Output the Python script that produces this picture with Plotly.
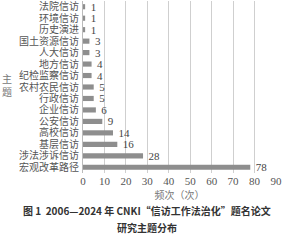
import plotly.graph_objects as go

categories = ["法院信访", "环境信访", "历史演进", "国土资源信访", "人大信访", "地方信访",
              "纪检监察信访", "农村农民信访", "行政信访", "企业信访", "公安信访", "高校信访",
              "基层信访", "涉法涉诉信访", "宏观改革路径"]
values = [1, 1, 1, 3, 3, 4, 4, 5, 5, 6, 9, 14, 16, 28, 78]
x_ticks = [0, 10, 20, 30, 40, 50, 60, 70, 80, 90]

serif = "Liberation Serif, Noto Sans CJK SC, serif"

fig = go.Figure(go.Bar(
    x=values, y=categories, orientation="h",
    marker=dict(color="#8e8e8e", line=dict(width=0)),
    width=0.45,
    text=["\u2002" + str(v) for v in values], textposition="outside",
    textfont=dict(family=serif, size=11, color="#444"),
    constraintext="none",
    cliponaxis=False,
))

fig.update_layout(
    width=294, height=240,
    margin=dict(l=83, r=18, t=1, b=67),
    paper_bgcolor="white", plot_bgcolor="white",
    showlegend=False,
    uniformtext=dict(minsize=11, mode="show"),
    xaxis=dict(range=[0, 90], tickvals=x_ticks, showgrid=True, gridcolor="#cfcfcf", gridwidth=1,
               zeroline=False, showline=False, ticks="",
               tickfont=dict(family=serif, size=11, color="#555"),
               title=dict(text="频次（次）", font=dict(family="Noto Sans CJK SC", size=10, color="#777"), standoff=3)),
    yaxis=dict(categoryorder="array", categoryarray=categories, autorange="reversed",
               tickmode="array", tickvals=categories,
               showline=True, linecolor="#bbb", linewidth=1, ticks="",
               tickfont=dict(family=serif, size=10, color="#555"), ticklabelstandoff=1),
    annotations=[
        dict(text="主<br>题", x=7, y=86, xref="paper", yref="paper", showarrow=False,
             font=dict(family=serif, size=10, color="#777")),
        dict(text="<b>图 1  2006—2024 年 CNKI“信访工作法治化”题名论文</b>", x=147, y=210,
             xref="paper", yref="paper", showarrow=False,
             font=dict(family="Noto Sans CJK SC", size=10, color="#333")),
        dict(text="<b>研究主题分布</b>", x=147, y=228, xref="paper", yref="paper", showarrow=False,
             font=dict(family="Noto Sans CJK SC", size=10, color="#333")),
    ],
)

# Convert pixel positions of annotations to paper coordinates
W, H = 294, 240
l, r, t, b = 83, 18, 1, 67
pw, ph = W - l - r, H - t - b
for a in fig.layout.annotations:
    px, py = a.x, a.y
    a.x = (px - l) / pw
    a.y = 1 - (py - t) / ph
    a.xanchor = "center"
    a.yanchor = "middle"

fig.write_html("out.html")
